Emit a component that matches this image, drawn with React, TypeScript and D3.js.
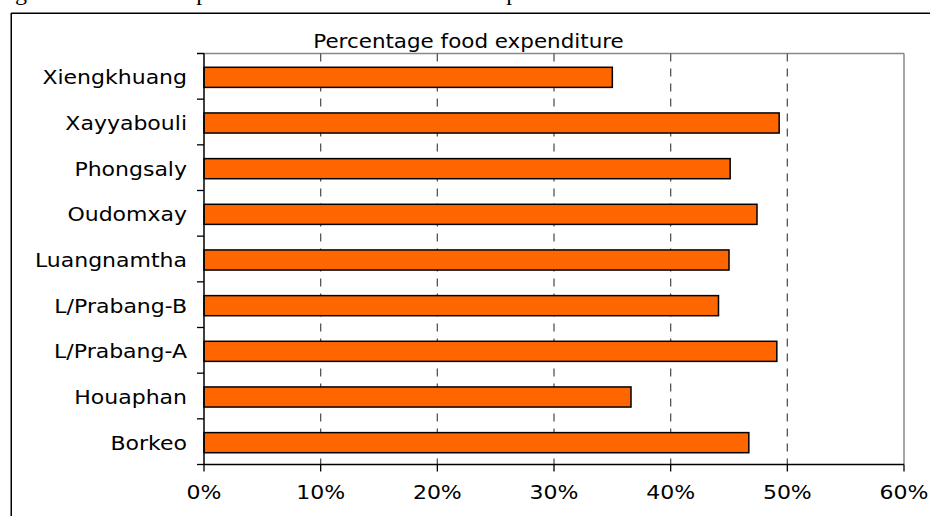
import React from 'react';
import * as d3 from 'd3';

const categories = ['Xiengkhuang', 'Xayyabouli', 'Phongsaly', 'Oudomxay', 'Luangnamtha', 'L/Prabang-B', 'L/Prabang-A', 'Houaphan', 'Borkeo'];
const foodShare = [0.350, 0.493, 0.451, 0.474, 0.450, 0.441, 0.491, 0.366, 0.467];
const xTicks = [0, 0.1, 0.2, 0.3, 0.4, 0.5, 0.6];
const chartTitle = 'Percentage food expenditure';
const captionText = 'Figure 4.13: Food expenditure shares in the northern provinces';

export default function App() {
  const W = 930, H = 516;
  const left = 204, right = 904, top = 53.5, bottom = 464.5;
  const sx = 1.1;
  const font = 'DejaVu Sans, Verdana, sans-serif';
  const x = d3.scaleLinear().domain([0, 0.6]).range([left, right]);
  const y = d3.scaleBand<string>().domain(categories).range([top, bottom]).paddingInner(0.56).paddingOuter(0.28);
  const step = y.step();
  const boundaries = d3.range(categories.length + 1).map(i => top + i * step);
  const fmt = d3.format('.0%');

  return (
    <svg width={W} height={H} style={{ position: 'absolute', left: 0, top: 0, background: '#fff' }}>
      <rect x={0} y={0} width={W} height={H} fill="#fff" />
      <text x={-5} y={0} fontFamily="Liberation Serif, Times New Roman, serif" fontSize={24} fill="#000">{captionText}</text>
      {/* outer frame */}
      <line x1={11.25} y1={13} x2={11.25} y2={H} stroke="#000" strokeWidth={1.5} />
      <line x1={11} y1={13.25} x2={W} y2={13.25} stroke="#000" strokeWidth={1.5} />

      {/* plot border top/right */}
      <line x1={197} y1={top} x2={right} y2={top} stroke="#888" strokeWidth={1.5} />
      <line x1={right} y1={top} x2={right} y2={bottom} stroke="#888" strokeWidth={1.5} />

      {/* gridlines */}
      {xTicks.filter(t => t > 0 && t < 0.6).map(t => (
        <line key={'g' + t} x1={x(t)} x2={x(t)} y1={top} y2={bottom} stroke="#555" strokeWidth={1.3} strokeDasharray="8,7" />
      ))}

      {/* bars */}
      {categories.map((c, i) => (
        <rect key={c} x={x(0)} y={(y(c) as number) + 1} width={x(foodShare[i]) - x(0)} height={y.bandwidth()}
          fill="#FF6600" stroke="#000" strokeWidth={1.5} />
      ))}

      {/* y axis */}
      <line x1={left} x2={left} y1={top} y2={bottom} stroke="#000" strokeWidth={1.5} />
      {boundaries.map((b, i) => (
        <line key={'yt' + i} x1={197} x2={left} y1={b} y2={b} stroke="#000" strokeWidth={1.3} />
      ))}
      {categories.map(c => (
        <g key={'l' + c} transform={`translate(187,${(y(c) as number) + y.bandwidth() / 2 + 8}) scale(${sx},1)`}>
          <text textAnchor="end" fontFamily={font} fontSize={20} fill="#000">{c}</text>
        </g>
      ))}

      {/* x axis */}
      <line x1={left} x2={right} y1={bottom} y2={bottom} stroke="#000" strokeWidth={1.5} />
      {xTicks.map(t => (
        <line key={'xt' + t} x1={x(t)} x2={x(t)} y1={bottom} y2={bottom + 7} stroke="#000" strokeWidth={1.3} />
      ))}
      {xTicks.map(t => (
        <g key={'xl' + t} transform={`translate(${x(t)},499) scale(${sx},1)`}>
          <text textAnchor="middle" fontFamily={font} fontSize={20} fill="#000">{fmt(t)}</text>
        </g>
      ))}

      {/* title */}
      <g transform={`translate(468.5,48) scale(${sx},1)`}>
        <text textAnchor="middle" fontFamily={font} fontSize={19.5} fill="#000">{chartTitle}</text>
      </g>
    </svg>
  );
}
